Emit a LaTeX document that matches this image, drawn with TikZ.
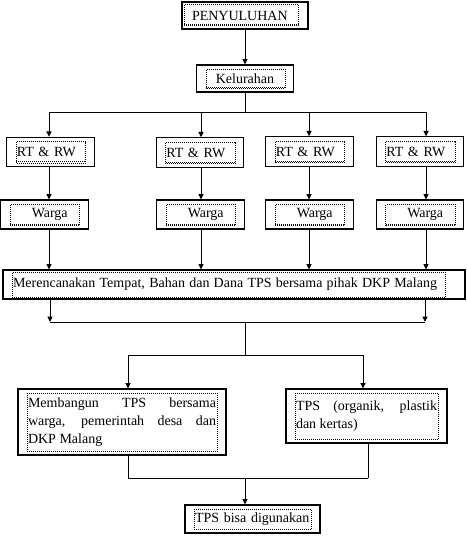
\documentclass[tikz,border=0pt]{standalone}
\usepackage{fontspec}
\setmainfont{Liberation Serif}
\usetikzlibrary{arrows.meta}
\tikzset{
	box/.style={draw,line width=0.8pt,inner xsep=7.5pt,inner ysep=0pt,align=left},
	link/.style={line width=0.75pt},
	arr/.style={line width=0.75pt,-{Triangle[width=3.75pt,length=4pt]}},
	dots/.style={line width=0.6pt,dash pattern=on 0.75pt off 0.75pt}
}
\begin{document}
\begin{tikzpicture}[x=0.75pt,y=-0.75pt,font=\fontsize{10.5}{13.75}\selectfont]
		\useasboundingbox (0,0) rectangle (467,542);
		
		% top of the chart
		\node[box,text width=79.5pt,minimum height=20.25pt] (pen) at (245,15.5) {PENYULUHAN};
		\node[box,align=center,text width=57.75pt,minimum height=20.25pt] (kel) at (245,78.5) {Kelurahan};
		
		% RT & RW
		\node[box,text width=50.6pt,minimum height=22pt] (rt1) at (50.5,152) {RT \& RW};
		\node[box,text width=50.6pt,minimum height=22pt] (rt2) at (200,152.5) {RT \& RW};
		\node[box,text width=50.6pt,minimum height=22pt] (rt3) at (309.5,151.5) {RT \& RW};
		\node[box,text width=50.6pt,minimum height=22pt] (rt4) at (420,151.5) {RT \& RW};
		
		% warga
		\node[box,text width=50.6pt,minimum height=21.75pt] (wg1) at (44.5,214.5) {\hspace*{15.75pt}Warga};
		\node[box,text width=50.6pt,minimum height=21.75pt] (wg2) at (200.5,214.5) {\hspace*{15.75pt}Warga};
		\node[box,text width=50.6pt,minimum height=21.75pt] (wg3) at (309.5,214.5) {\hspace*{15.75pt}Warga};
		\node[box,text width=50.6pt,minimum height=21.75pt] (wg4) at (420,214.5) {\hspace*{15.75pt}Warga};
		
		% planning
		\node[box,align=justify,text width=331.5pt,minimum height=21.75pt] (plan) at (234,284.5)
			{\makebox[318pt][s]{Merencanakan Tempat, Bahan dan Dana TPS bersama pihak DKP Malang}};
		
		% building and sorting
		\node[box,align=justify,text width=141pt,minimum height=49.5pt] (build) at (122,422)
			{\makebox[141pt][s]{Membangun TPS bersama}\\\makebox[141pt][s]{warga, pemerintah desa dan}\\DKP Malang};
		\node[box,align=justify,text width=105.75pt,minimum height=40.5pt] (sort) at (366.5,416)
			{\makebox[105.75pt][s]{TPS (organik, plastik}\\dan kertas)};
		
		% result
		\node[box,text width=86.25pt,minimum height=21pt] (use) at (252.5,519) {TPS bisa digunakan};
		
		% dotted text frames
		\foreach \n in {kel,rt1,rt2,rt3,rt4,wg1,wg2,wg3,wg4}{
			\draw[dots] ([xshift=7.5pt,yshift=3pt]\n.south west) rectangle ([xshift=-6.75pt,yshift=-3.75pt]\n.north east);
			\draw[dots] ([xshift=7.5pt,yshift=4.2pt]\n.south west) -- ([xshift=-6.75pt,yshift=4.2pt]\n.south east);
		}
		\foreach \n in {build,sort,use}{
			\draw[dots] ([xshift=7.5pt,yshift=3pt]\n.south west) rectangle ([xshift=-6.75pt,yshift=-3.75pt]\n.north east);
		}
		\draw[dots] ([xshift=2.25pt,yshift=3pt]pen.south west) rectangle ([xshift=-7.5pt,yshift=-2.25pt]pen.north east);
		\draw[dots] ([xshift=2.25pt,yshift=4.2pt]pen.south west) -- ([xshift=-7.5pt,yshift=4.2pt]pen.south east);
		\draw[dots] ([xshift=7.5pt,yshift=1.5pt]plan.south west) rectangle ([xshift=-15pt,yshift=-2.25pt]plan.north east);
		
		% columns
		\coordinate (c1) at (49,112);
		\coordinate (c2) at (201,112);
		\coordinate (c3) at (309,112);
		\coordinate (c4) at (426,112);
		
		% from penyuluhan down to the columns
		\draw[arr] (pen.south) -- (kel.north);
		\draw[link] (kel.south) -- (kel.south |- c1);
		\draw[link] (c1) -- (c4);
		\draw[arr] (c1) -- (c1 |- rt1.north);
		\draw[arr] (c2) -- (c2 |- rt2.north);
		\draw[arr] (c3) -- (c3 |- rt3.north);
		\draw[arr] (c4) -- (c4 |- rt4.north);
		\draw[arr] (c1 |- rt1.south) -- (c1 |- wg1.north);
		\draw[arr] (c2 |- rt2.south) -- (c2 |- wg2.north);
		\draw[arr] (c3 |- rt3.south) -- (c3 |- wg3.north);
		\draw[arr] (c4 |- rt4.south) -- (c4 |- wg4.north);
		\draw[arr] (c1 |- wg1.south) -- (c1 |- plan.north);
		\draw[arr] (c2 |- wg2.south) -- (c2 |- plan.north);
		\draw[arr] (c3 |- wg3.south) -- (c3 |- plan.north);
		\draw[arr] (c4 |- wg4.south) -- (c4 |- plan.north);
		
		% from planning to building and sorting
		\coordinate (m1) at (50,322);
		\coordinate (m2) at (425,322);
		\coordinate (mid) at (245,322);
		\coordinate (split) at (245,355);
		\coordinate (d1) at (128,355);
		\coordinate (d2) at (363,355);
		\draw[arr] (m1 |- plan.south) -- (m1);
		\draw[arr] (m2 |- plan.south) -- (m2);
		\draw[link] (m1) -- (m2);
		\draw[link] (mid) -- (split);
		\draw[link] (d1) -- (d2);
		\draw[arr] (d1) -- (d1 |- build.north);
		\draw[arr] (d2) -- (d2 |- sort.north);
		
		% to the result
		\coordinate (e1) at (128,478);
		\coordinate (e2) at (368,478);
		\coordinate (low) at (245,478);
		\draw[link] (e1 |- build.south) -- (e1);
		\draw[link] (e2 |- sort.south) -- (e2);
		\draw[link] (e1) -- (e2);
		\draw[arr] (low) -- (low |- use.north);
		
	\end{tikzpicture}
\end{document}
